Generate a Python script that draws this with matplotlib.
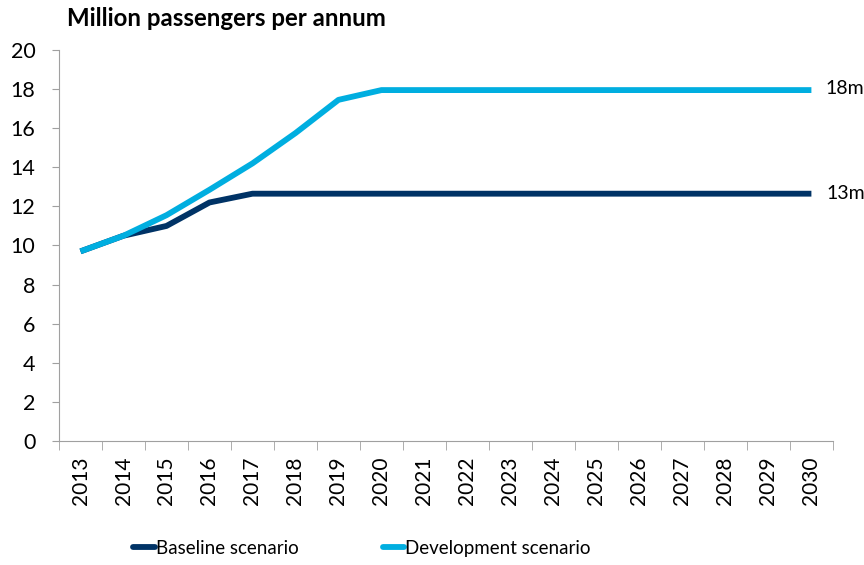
import numpy as np
import matplotlib

matplotlib.use("Agg")
import matplotlib.pyplot as plt
from matplotlib.ticker import FixedLocator

years = [str(y) for y in range(2013, 2031)]
baseline = [9.7, 10.5, 11.0, 12.2, 12.65, 12.65, 12.65, 12.65, 12.65, 12.65,
            12.65, 12.65, 12.65, 12.65, 12.65, 12.65, 12.65, 12.65]
development = [9.7, 10.5, 11.55, 12.85, 14.2, 15.75, 17.45, 17.95, 17.95, 17.95,
               17.95, 17.95, 17.95, 17.95, 17.95, 17.95, 17.95, 17.95]
end_labels = ["13m", "18m"]

plt.rcParams["font.family"] = ["Lato", "DejaVu Sans"]

fig = plt.figure(figsize=(8.64, 5.65), dpi=100)
ax = fig.add_axes([0.0683, 0.2195, 0.8957, 0.692])

x = np.arange(len(years))
ax.plot(x, baseline, color="#003366", lw=4.2, solid_capstyle="butt", label="Baseline scenario")
ax.plot(x, development, color="#00aee0", lw=4.2, solid_capstyle="butt", label="Development scenario")

ax.annotate(end_labels[0], (x[-1], baseline[-1]), xytext=(11, 0), textcoords="offset points",
            va="center", ha="left", fontsize=14)
ax.annotate(end_labels[1], (x[-1], development[-1]), xytext=(10, 1), textcoords="offset points",
            va="center", ha="left", fontsize=14)

ax.set_xlim(-0.5, len(years) - 0.5)
ax.set_ylim(0, 20)
ax.set_yticks(range(0, 21, 2))
ax.tick_params(axis="y", labelsize=15.5, length=5, color="#a0a0a0", pad=12)

ax.set_xticks(x)
ax.set_xticklabels(years, rotation=90, fontsize=15)
ax.tick_params(axis="x", which="major", length=0, pad=11)
ax.xaxis.set_minor_locator(FixedLocator(np.arange(-0.5, len(years), 1)))
ax.tick_params(axis="x", which="minor", length=6.5, color="#a0a0a0")

for side in ["top", "right"]:
    ax.spines[side].set_visible(False)
for side in ["left", "bottom"]:
    ax.spines[side].set_color("#a0a0a0")

fig.text(0.078, 0.968, "Million passengers per annum", fontsize=17.3, fontweight="bold",
         ha="left", va="center")

leg = fig.legend(loc="center", bbox_to_anchor=(0.419, 0.03), ncol=2, frameon=False,
                 fontsize=13.5, handlelength=1.15, handletextpad=0.05, columnspacing=4.5)
for line in leg.get_lines():
    line.set_solid_capstyle("round")
    line.set_linewidth(4.2)

fig.savefig("out.png", dpi=100)
